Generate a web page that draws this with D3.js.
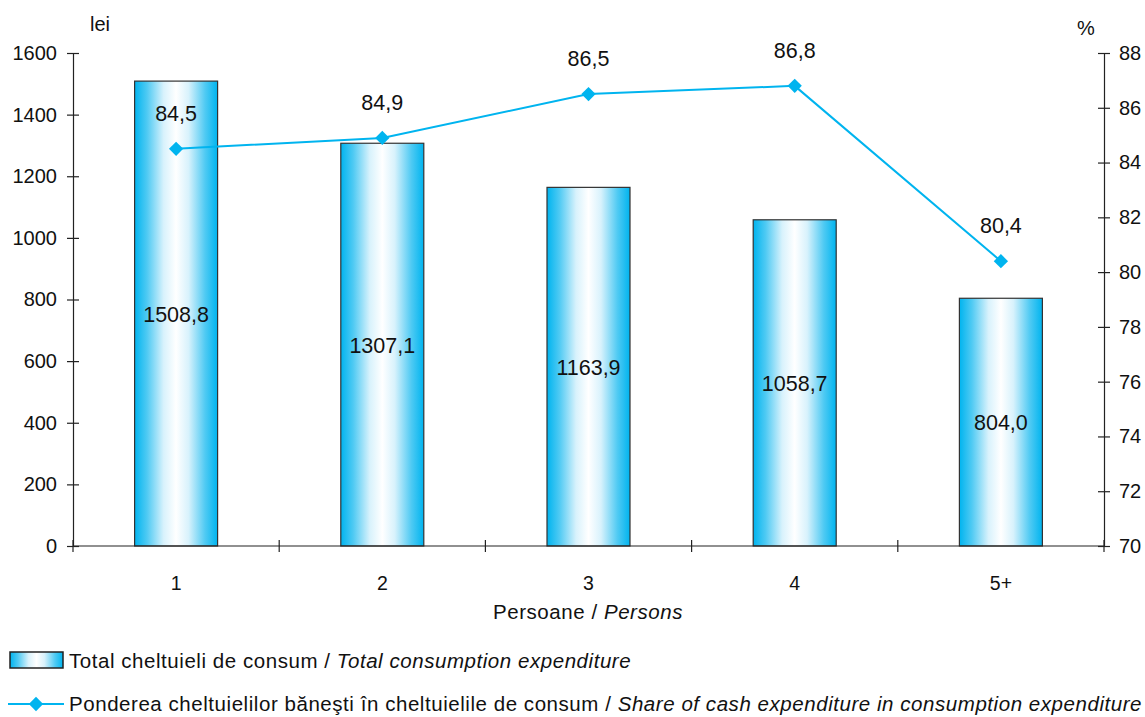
<!DOCTYPE html>
<html><head><meta charset="utf-8">
<script src="https://cdn.jsdelivr.net/npm/d3@7"></script>
<style>
body{margin:0;background:#fff;}
text{font-family:"Liberation Sans",Arial,sans-serif;fill:#111;}
</style></head>
<body>
<svg id="c" width="1145" height="717"></svg>
<script>
const categories = ["1","2","3","4","5+"];
const totalExpenditure = [1508.8, 1307.1, 1163.9, 1058.7, 804.0];
const cashShare = [84.5, 84.9, 86.5, 86.8, 80.4];
const leftTicks = [0,200,400,600,800,1000,1200,1400,1600];
const rightTicks = [70,72,74,76,78,80,82,84,86,88];

const svg = d3.select("#c");
const L = 73, R = 1104, T = 53, B = 546;
const blue = "#00b4ef";
const fmt = v => d3.format(".1f")(v).replace(".", ",");

const defs = svg.append("defs");
const g = defs.append("linearGradient").attr("id","bg").attr("x1","0").attr("x2","1").attr("y1","0").attr("y2","0");
[[0,blue],[0.15,"#4fcaf3"],[0.35,"#d8f2fc"],[0.5,"#ffffff"],[0.65,"#d8f2fc"],[0.85,"#4fcaf3"],[1,blue]]
  .forEach(([o,c])=>g.append("stop").attr("offset",o).attr("stop-color",c));

const x = d3.scaleBand().domain(categories).range([L,R]).padding(0);
const yL = d3.scaleLinear().domain([0,1600]).range([B,T]);
const yR = d3.scaleLinear().domain([70,88]).range([B,T]);
const barW = 83;
const labelSize = 21.5;

// bars
svg.append("g").selectAll("rect").data(totalExpenditure).join("rect")
  .attr("x",(d,i)=>x(categories[i])+x.bandwidth()/2-barW/2)
  .attr("y",d=>yL(d))
  .attr("width",barW)
  .attr("height",d=>B-yL(d))
  .attr("fill","url(#bg)")
  .attr("stroke","#333").attr("stroke-width",1.2);

// bar labels
svg.append("g").selectAll("text").data(totalExpenditure).join("text")
  .attr("x",(d,i)=>x(categories[i])+x.bandwidth()/2)
  .attr("y",d=>(yL(d)+B)/2+8)
  .attr("text-anchor","middle").attr("font-size",labelSize)
  .text(d=>fmt(d));

// axes
const axStyle = (sel, fs) => {
  sel.selectAll("path").attr("stroke","#222").attr("stroke-width",1.2);
  sel.selectAll("line").attr("stroke","#222").attr("stroke-width",1.2);
  sel.selectAll("text").attr("font-size",fs).attr("font-family","Liberation Sans, Arial, sans-serif").attr("fill","#111");
};
const gl = svg.append("g").attr("transform",`translate(${L},0)`)
  .call(d3.axisLeft(yL).tickValues(leftTicks).tickSizeInner(6).tickSizeOuter(0).tickPadding(10).tickFormat(d3.format("d")));
gl.selectAll(".tick line").attr("x1",6);
axStyle(gl, 20);

const gr = svg.append("g").attr("transform",`translate(${R},0)`)
  .call(d3.axisRight(yR).tickValues(rightTicks).tickSizeInner(6).tickSizeOuter(0).tickPadding(9).tickFormat(d3.format("d")));
gr.selectAll(".tick line").attr("x1",-6);
axStyle(gr, 20);

const gx = svg.append("g").attr("transform",`translate(0,${B})`)
  .call(d3.axisBottom(x).tickSize(0).tickPadding(30));
axStyle(gx, 19.5);
gx.select("path").attr("d",`M${L},0H${R}`);
// category boundary ticks
const bounds = categories.map(c=>x(c)).concat([R]);
svg.append("g").selectAll("line").data(bounds).join("line")
  .attr("x1",d=>d).attr("x2",d=>d).attr("y1",B-6).attr("y2",B+6)
  .attr("stroke","#222").attr("stroke-width",1.2);

// line
const pts = cashShare.map((v,i)=>[x(categories[i])+x.bandwidth()/2, yR(v)]);
svg.append("path").attr("d",d3.line()(pts)).attr("fill","none").attr("stroke",blue).attr("stroke-width",2);
svg.append("g").selectAll("path").data(pts).join("path")
  .attr("transform",d=>`translate(${d[0]},${d[1]})`)
  .attr("d",d3.symbol(d3.symbolDiamond2 || d3.symbolDiamond,130)())
  .attr("fill",blue);
svg.append("g").selectAll("text").data(cashShare).join("text")
  .attr("x",(d,i)=>pts[i][0]).attr("y",(d,i)=>pts[i][1]-28)
  .attr("text-anchor","middle").attr("font-size",labelSize).text(d=>fmt(d));

// unit labels
svg.append("text").attr("x",90).attr("y",31).attr("font-size",20).text("lei");
svg.append("text").attr("x",1077).attr("y",35).attr("font-size",20).text("%");

// x title
const xt = svg.append("text").attr("x",588).attr("y",619).attr("text-anchor","middle").attr("font-size",20.5).attr("letter-spacing",0.55);
xt.append("tspan").text("Persoane / ");
xt.append("tspan").attr("font-style","italic").text("Persons");

// legend
svg.append("rect").attr("x",10).attr("y",652).attr("width",53).attr("height",16)
  .attr("fill","url(#bg)").attr("stroke","#222").attr("stroke-width",1.5);
const l1 = svg.append("text").attr("x",69).attr("y",668).attr("font-size",20.5).attr("letter-spacing",0.55);
l1.append("tspan").text("Total cheltuieli de consum / ");
l1.append("tspan").attr("font-style","italic").text("Total consumption expenditure");

svg.append("line").attr("x1",8).attr("x2",64).attr("y1",704).attr("y2",704).attr("stroke",blue).attr("stroke-width",2);
svg.append("path").attr("transform","translate(36,704)").attr("d",d3.symbol(d3.symbolDiamond2 || d3.symbolDiamond,130)()).attr("fill",blue);
const l2 = svg.append("text").attr("x",69).attr("y",711).attr("font-size",20.5).attr("letter-spacing",0.55);
l2.append("tspan").text("Ponderea cheltuielilor băneşti în cheltuielile de consum / ");
l2.append("tspan").attr("font-style","italic").text("Share of cash expenditure in consumption expenditure");
</script>
</body></html>
